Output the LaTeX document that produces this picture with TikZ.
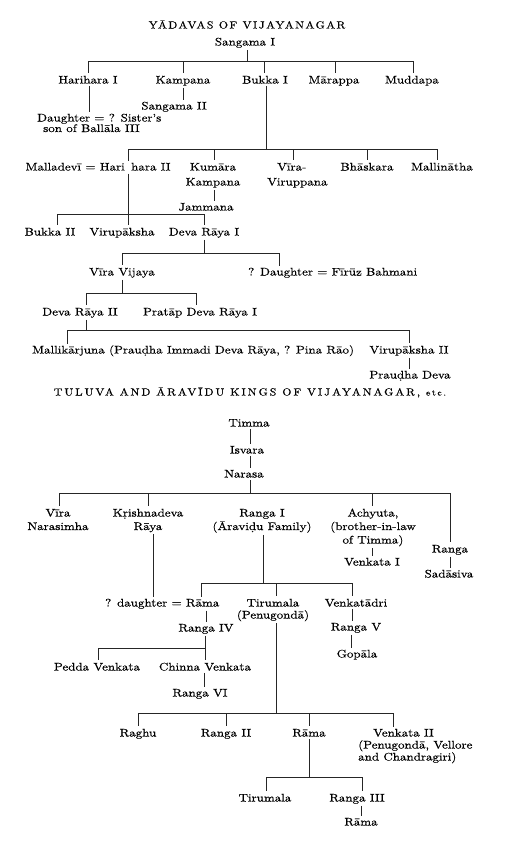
\documentclass[tikz,border=0pt]{standalone}
\usepackage{fontspec}
\setmainfont{lmroman10-regular.otf}[FakeStretch=1.18,FakeBold=0.15]
\newfontfamily\lowfont{lmroman10-regular.otf}[FakeStretch=1.18,FakeBold=0.5]
\newfontfamily\titlefont{lmroman10-regular.otf}[FakeStretch=1.15,LetterSpace=14,FakeBold=0.3]
\newfontfamily\titlefontb{lmroman10-regular.otf}[FakeStretch=1.15,LetterSpace=19,FakeBold=0.3]
\newcommand\upf{\fontsize{11}{13}\selectfont}
\newcommand\lowf{\lowfont\fontsize{11}{13.5}\selectfont}
% connectors
\newcommand\lnk[3][0pt]{\draw[ln] ([xshift=#1,yshift=-2pt]#2.south) -- ([xshift=#1,yshift=2pt]#2.south |- #3.north);}
\newcommand\dropto[3][0pt]{\draw[ln] ([xshift=#1]#3.north |- #2) -- ([xshift=#1,yshift=2.5pt]#3.north);}
\newcommand\riseto[3][0pt]{\draw[ln] ([xshift=#1,yshift=-2pt]#2.south) -- ([xshift=#1]#2.south |- #3);}
\begin{document}
\begin{tikzpicture}[x=1pt,y=-1pt,
  ln/.style={line width=0.6pt,black!85},
  nm/.style={inner sep=0pt,anchor=base,font=\upf},
  lw/.style={inner sep=0pt,anchor=base,font=\lowf},
  ttl/.style={inner sep=0pt,anchor=base,font=\titlefont\fontsize{10.3}{12}\selectfont}]
\fill[white] (0,0) rectangle (514,844);
\useasboundingbox (0,0) rectangle (514,844);

% ---------- Yadavas ----------
\node[ttl] (t1) at (247,28.5) {YĀDAVAS OF VIJAYANAGAR};
\node[nm] (sang) at (245,45.5) {Sangama I};
\node[nm] (harI) at (88,83.5) {Harihara I};
\node[nm] (kamp) at (183,83.5) {Kampana};
\node[nm] (buk1) at (265,83.5) {Bukka I};
\node[nm] (mar) at (334,83.5) {Mārappa};
\node[nm] (mud) at (412,83.5) {Muddapa};
\node[nm] (sang2) at (174,109.5) {Sangama II};
\node[nm,anchor=base west,align=left,font=\fontsize{11}{10.5}\selectfont] (dau) at (37,132) {Daughter = ? Sister's\\\hspace*{6pt}son of Ballāla III};

\coordinate (b1a) at (88,61); \coordinate (b1b) at (413,61);
\draw[ln] (b1a) -- (b1b);
\riseto[2pt]{sang}{b1a}
\dropto{b1a}{harI}
\dropto{b1a}{kamp}
\dropto[-1pt]{b1a}{buk1}
\dropto[1pt]{b1a}{mar}
\dropto[1pt]{b1a}{mud}
\lnk{kamp}{sang2}
\lnk[1pt]{harI}{dau}

\node[nm,anchor=base east] (hh2a) at (125,170.5) {Malladevī = Hari};
\node[nm,anchor=base west] (hh2b) at (131,170.5) {hara II};
\coordinate (hhj) at (128,170.5);
\node[nm,align=center,font=\fontsize{11}{15}\selectfont] (kk) at (213,185.5) {Kumāra\\Kampana};
\node[nm,anchor=base west,align=left,font=\fontsize{11}{15}\selectfont] (vv) at (267,185.5) {\hspace*{10pt}Vīra-\\Viruppana};
\node[nm] (bh) at (367,170.5) {Bhāskara};
\node[nm] (ma) at (442,170.5) {Mallinātha};
\node[nm] (jam) at (206,210.5) {Jammana};

\coordinate (b2a) at (128,149); \coordinate (b2b) at (438,149);
\draw[ln] (b2a) -- (b2b);
\riseto[1pt]{buk1}{b2a}
\draw[ln] (hhj |- b2a) -- ([yshift=10pt]hhj);
\dropto[1pt]{b2a}{kk}
\dropto[-4pt]{b2a}{vv}
\dropto{b2a}{bh}
\dropto[-5pt]{b2a}{ma}
\lnk[1pt]{kk}{jam}

\node[nm] (bk2) at (50,235.5) {Bukka II};
\node[nm] (vir) at (122,235.5) {Virupāksha};
\node[nm] (dr1) at (204,235.5) {Deva Rāya I};
\coordinate (b3a) at (57,214); \coordinate (b3b) at (204,214);
\draw[ln] (b3a) -- (b3b);
\draw[ln] ([yshift=-3pt]hhj) -- (hhj |- b3a);
\dropto[7pt]{b3a}{bk2}
\dropto[6pt]{b3a}{vir}
\dropto{b3a}{dr1}

\node[nm] (vv2) at (122,275.5) {Vīra Vijaya};
\node[nm,anchor=base west] (dauF) at (248,275.5) {? Daughter = Fīrūz Bahmani};
\coordinate (dfj) at (279,275.5);
\coordinate (b4a) at (122,253); \coordinate (b4b) at (279,253);
\draw[ln] (b4a) -- (b4b);
\riseto{dr1}{b4a}
\dropto{b4a}{vv2}
\draw[ln] (dfj |- b4a) -- ([yshift=10pt]dfj);

\node[nm] (dr2) at (80,315.5) {Deva Rāya II};
\node[nm] (pdr) at (200,315.5) {Pratāp Deva Rāya I};
\coordinate (b5a) at (86,293); \coordinate (b5b) at (196,293);
\draw[ln] (b5a) -- (b5b);
\riseto{vv2}{b5a}
\dropto[6pt]{b5a}{dr2}
\dropto[-4pt]{b5a}{pdr}

\node[nm,anchor=base west] (mall) at (32,353.5) {Mallikārjuna (Prauḍha Immadi Deva Rāya, ? Pina Rāo)};
\coordinate (mlj) at (67,353.5);
\node[nm] (vir2) at (409,353.5) {Virupāksha II};
\node[nm] (pd) at (410,378.5) {Prauḍha Deva};
\coordinate (b6a) at (67,330); \coordinate (b6b) at (409,330);
\draw[ln] (b6a) -- (b6b);
\riseto[6pt]{dr2}{b6a}
\draw[ln] (mlj |- b6a) -- ([yshift=10pt]mlj);
\dropto{b6a}{vir2}
\lnk{vir2}{pd}

% ---------- Tuluva and Aravidu ----------
\node[ttl,font=\titlefontb\fontsize{10.3}{12}\selectfont] (t2) at (250,395.5) {TULUVA AND ĀRAVĪDU KINGS OF VIJAYANAGAR, {\fontsize{8.5}{10}\selectfont etc.}};
\node[lw] (timma) at (249,426.5) {Timma};
\node[lw] (isv) at (247,453.5) {Isvara};
\node[lw] (nar) at (244,477.5) {Narasa};
\lnk[1pt]{timma}{isv}
\lnk[3pt]{isv}{nar}

\node[lw,align=center] (vn) at (58,530) {Vīra\\Narasimha};
\node[lw,align=center] (kr) at (148,530) {Kṛishnadeva\\Rāya};
\node[lw,align=center] (r1) at (262,530) {Ranga I\\(Āraviḍu Family)};
\node[lw,align=center] (ach) at (373,543.5) {Achyuta,\\(brother-in-law\\of Timma)};
\node[lw] (ranga) at (450,552.5) {Ranga};
\node[lw] (sad) at (449,577.5) {Sadāsiva};
\node[lw] (vk1) at (372,565.5) {Venkata I};
\coordinate (b7a) at (59,493); \coordinate (b7b) at (450,493);
\draw[ln] (b7a) -- (b7b);
\riseto[6pt]{nar}{b7a}
\dropto[1pt]{b7a}{vn}
\dropto{b7a}{kr}
\dropto[-1pt]{b7a}{ach}
\draw[ln] (b7b) -- ([yshift=2.5pt]ranga.north);
\lnk[-1pt]{ach}{vk1}
\lnk{ranga}{sad}

\node[lw,anchor=base west] (dr) at (105,606.5) {? daughter = Rāma};
\coordinate (rmj) at (201,606.5);
\node[lw,align=center,font=\lowfont\fontsize{11}{12}\selectfont] (tir) at (273,618.5) {Tirumala\\(Penugondā)};
\node[lw] (vkd) at (356,606.5) {Venkatādri};
\node[lw] (rg4) at (206,631.5) {Ranga IV};
\node[lw] (rg5) at (356,630.5) {Ranga V};
\node[lw] (gop) at (357,657.5) {Gopāla};
\coordinate (b8a) at (201,583); \coordinate (b8b) at (352,583);
\draw[ln] (b8a) -- (b8b);
\lnk[5pt]{kr}{dr}
\riseto[1pt]{r1}{b8a}
\draw[ln] (rmj |- b8a) -- ([yshift=10pt]rmj);
\dropto[3pt]{b8a}{tir}
\dropto[-4pt]{b8a}{vkd}
\draw[ln] ([xshift=5pt,yshift=-4pt]rmj) -- ([xshift=5pt,yshift=2pt]rmj |- rg4.north);
\lnk[-4pt]{vkd}{rg5}
\lnk[-5pt]{rg5}{gop}

\node[lw] (pv) at (97,670.5) {Pedda Venkata};
\node[lw] (cv) at (205,670.5) {Chinna Venkata};
\node[lw] (rg6) at (200,696.5) {Ranga VI};
\coordinate (b9a) at (98,648); \coordinate (b9b) at (205,648);
\draw[ln] (b9a) -- (b9b);
\riseto[-1pt]{rg4}{b9a}
\dropto[1pt]{b9a}{pv}
\dropto{b9a}{cv}
\lnk[-1pt]{cv}{rg6}

\node[lw] (raghu) at (138,736.5) {Raghu};
\node[lw] (rg2) at (226,736.5) {Ranga II};
\node[lw] (rama2) at (309,736.5) {Rāma};
\node[lw,anchor=base west,align=left,font=\lowfont\fontsize{11}{12}\selectfont] (vk2) at (358,760.5) {\hspace*{15pt}Venkata II\\(Penugondā, Vellore\\and Chandragiri)};
\coordinate (vkj) at (393,736.5);
\coordinate (b10a) at (138,713); \coordinate (b10b) at (393,713);
\draw[ln] (b10a) -- (b10b);
\riseto[3pt]{tir}{b10a}
\dropto{b10a}{raghu}
\dropto{b10a}{rg2}
\dropto{b10a}{rama2}
\draw[ln] (vkj |- b10a) -- ([yshift=10pt]vkj);

\node[lw] (tir2) at (265,801.5) {Tirumala};
\node[lw] (rg3) at (357,801.5) {Ranga III};
\node[lw] (rama3) at (361,825.5) {Rāma};
\coordinate (b11a) at (266,777); \coordinate (b11b) at (362,777);
\draw[ln] (b11a) -- (b11b);
\riseto{rama2}{b11a}
\dropto[1pt]{b11a}{tir2}
\dropto[5pt]{b11a}{rg3}
\lnk[4pt]{rg3}{rama3}
\end{tikzpicture}
\end{document}
